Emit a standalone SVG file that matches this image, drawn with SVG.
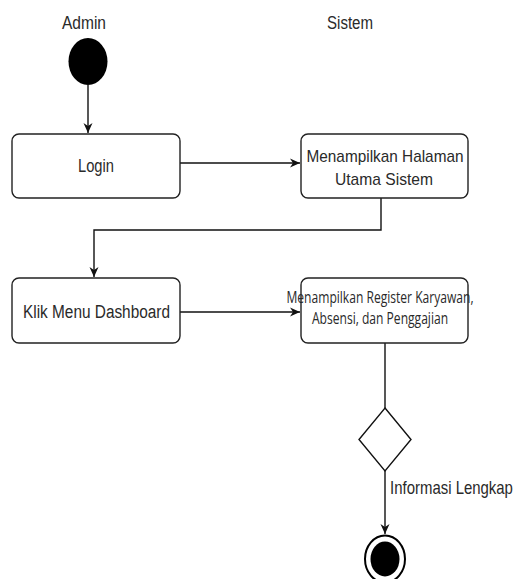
<svg xmlns="http://www.w3.org/2000/svg" width="519" height="579" viewBox="0 0 519 579">
<style>
.box{fill:#fff;stroke:#222;stroke-width:1.4}
.edge{fill:none;stroke:#111;stroke-width:1.4}
.t{font-family:"Liberation Sans",Arial,sans-serif;font-size:18px;fill:#2a2a2a;text-anchor:middle}
.o{font-family:"Open Sans","Noto Sans",sans-serif;font-size:15.5px;fill:#2a2a2a;text-anchor:middle}
</style>
<defs>
<marker id="arr" markerWidth="11" markerHeight="10" refX="10" refY="5" orient="auto" markerUnits="userSpaceOnUse">
<path d="M0,0.5 L10,5 L0,9.5 L3,5 Z" fill="#111"/>
</marker>
</defs>
<rect width="519" height="579" fill="#fff"/>
<g id="lanes">
<text class="t" x="84" y="29" textLength="44" lengthAdjust="spacingAndGlyphs">Admin</text>
<text class="t" x="350" y="29" textLength="46" lengthAdjust="spacingAndGlyphs">Sistem</text>
</g>
<g id="connectors">
<line class="edge" x1="88" y1="85" x2="88" y2="133" marker-end="url(#arr)"/>
<line class="edge" x1="180" y1="163" x2="300" y2="163" marker-end="url(#arr)"/>
<path class="edge" d="M381,198 V230 H94 V277" marker-end="url(#arr)"/>
<line class="edge" x1="180" y1="312" x2="300" y2="312" marker-end="url(#arr)"/>
<line class="edge" x1="385" y1="343" x2="385" y2="408"/>
<line class="edge" x1="385" y1="471" x2="385" y2="534" marker-end="url(#arr)"/>
<text class="t" transform="translate(451.5,494) scale(0.83,1)" x="0" y="0">Informasi Lengkap</text>
</g>
<g id="start">
<ellipse cx="88" cy="61.5" rx="19.5" ry="23.5" fill="#000"/>
</g>
<g id="login">
<rect class="box" x="12" y="134" width="168" height="64" rx="7"/>
<text class="t" x="96" y="172" textLength="36" lengthAdjust="spacingAndGlyphs">Login</text>
</g>
<g id="halaman">
<rect class="box" x="301" y="134" width="167" height="64" rx="7"/>
<text class="t" x="385" y="162" style="font-size:17px" textLength="157" lengthAdjust="spacingAndGlyphs">Menampilkan Halaman</text>
<text class="t" x="384" y="185" style="font-size:17px" textLength="98" lengthAdjust="spacingAndGlyphs">Utama Sistem</text>
</g>
<g id="dashboard">
<rect class="box" x="12" y="278" width="168" height="65" rx="7"/>
<text class="t" x="96.5" y="318" textLength="147" lengthAdjust="spacingAndGlyphs">Klik Menu Dashboard</text>
</g>
<g id="register">
<rect class="box" x="301" y="278" width="167" height="65" rx="7"/>
<text class="o" transform="translate(380,303) scale(0.78,1)" x="0" y="0">Menampilkan Register Karyawan,</text>
<text class="o" transform="translate(380,324) scale(0.78,1)" x="0" y="0">Absensi, dan Penggajian</text>
</g>
<g id="decision">
<polygon points="385,408 411,439.5 385,471 359,439.5" fill="#fff" stroke="#111" stroke-width="1.4"/>
</g>
<g id="end">
<ellipse cx="385" cy="559" rx="20" ry="23.5" fill="#fff" stroke="#000" stroke-width="2"/>
<ellipse cx="385" cy="559" rx="14.5" ry="17.5" fill="#000"/>
</g>
</svg>
